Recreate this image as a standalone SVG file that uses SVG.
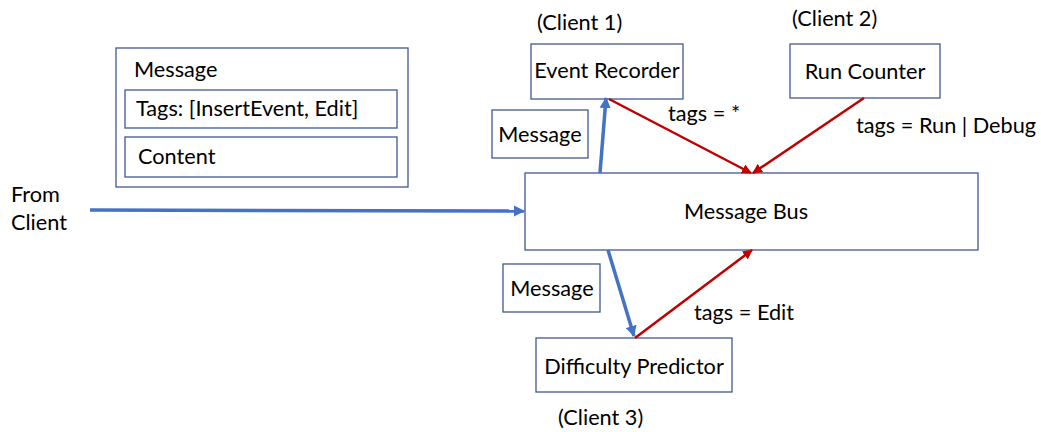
<svg xmlns="http://www.w3.org/2000/svg" width="1041" height="432" viewBox="0 0 1041 432">
<style>
.box{fill:#fff;stroke:#41588f;stroke-width:1.3}
.t{font-family:Lato,"Open Sans","Liberation Sans",sans-serif;font-size:21.7px;fill:#000}
.blue{stroke:#4472C4;stroke-width:3.5;fill:none}
.red{stroke:#C00000;stroke-width:2.5;fill:none}
</style>
<defs>
<marker id="ab" viewBox="0 0 10 10" refX="9" refY="5" markerWidth="3.2" markerHeight="3.2" orient="auto" markerUnits="strokeWidth"><path d="M0,0 L10,5 L0,10 z" fill="#4472C4"/></marker>
<marker id="ar" viewBox="0 0 10 10" refX="9" refY="5" markerWidth="4" markerHeight="4" orient="auto" markerUnits="strokeWidth"><path d="M0,0 L10,5 L0,10 z" fill="#C00000"/></marker>
</defs>
<rect width="1041" height="432" fill="#fff"/>
<g id="message-struct">
<rect class="box" x="116" y="48" width="292" height="139"/>
<text class="t" x="134" y="77">Message</text>
<rect class="box" x="125" y="90" width="272" height="38"/>
<text class="t" x="136" y="116">Tags: [InsertEvent, Edit]</text>
<rect class="box" x="125" y="137" width="272" height="40"/>
<text class="t" x="138" y="164">Content</text>
</g>
<g id="from-client">
<text class="t" x="11" y="202">From</text>
<text class="t" x="11" y="230">Client</text>
</g>
<g id="event-recorder">
<text class="t" x="537" y="30">(Client 1)</text>
<rect class="box" x="531" y="44" width="152" height="55"/>
<text class="t" x="607" y="78" text-anchor="middle">Event Recorder</text>
</g>
<g id="run-counter">
<text class="t" x="792" y="26">(Client 2)</text>
<rect class="box" x="790" y="44" width="150" height="54"/>
<text class="t" x="865" y="79" text-anchor="middle">Run Counter</text>
</g>
<g id="message-label-1">
<rect class="box" x="492" y="110" width="96" height="48"/>
<text class="t" x="540" y="142" text-anchor="middle">Message</text>
</g>
<g id="message-bus">
<rect class="box" x="525" y="173" width="453" height="77"/>
<text class="t" x="746" y="219" text-anchor="middle">Message Bus</text>
</g>
<g id="message-label-2">
<rect class="box" x="503" y="264" width="97" height="48"/>
<text class="t" x="552" y="296" text-anchor="middle">Message</text>
</g>
<g id="difficulty-predictor">
<rect class="box" x="536" y="338" width="196" height="54"/>
<text class="t" x="634" y="374" text-anchor="middle">Difficulty Predictor</text>
<text class="t" x="558" y="425">(Client 3)</text>
</g>
<g id="connectors">
<line class="blue" x1="90" y1="210" x2="524" y2="211" marker-end="url(#ab)"/>
<line class="blue" x1="600" y1="173" x2="606" y2="98" marker-end="url(#ab)"/>
<line class="blue" x1="608" y1="250" x2="634" y2="336" marker-end="url(#ab)"/>
<line class="red" x1="609" y1="99" x2="751" y2="173" marker-end="url(#ar)"/>
<line class="red" x1="864" y1="98" x2="753" y2="173" marker-end="url(#ar)"/>
<line class="red" x1="635" y1="338" x2="752" y2="250" marker-end="url(#ar)"/>
<text class="t" x="668" y="121">tags = *</text>
<text class="t" x="856" y="133">tags = Run | Debug</text>
<text class="t" x="694" y="320">tags = Edit</text>
</g>
</svg>
